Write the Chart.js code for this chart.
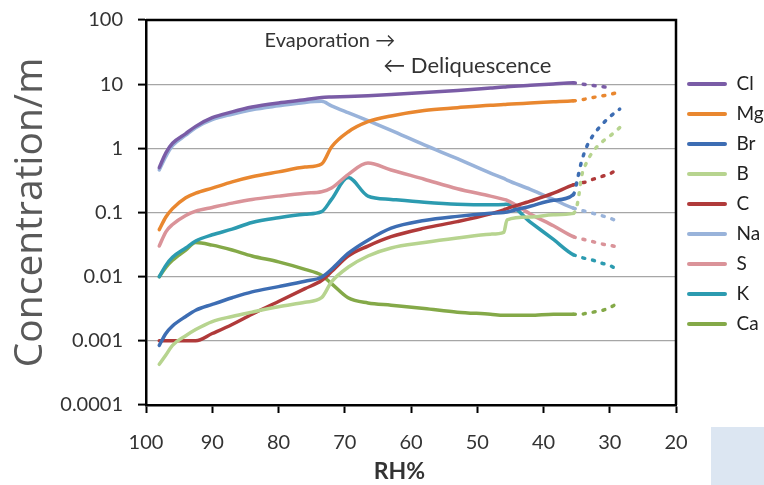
<!DOCTYPE html>
<html>
<head>
<meta charset="utf-8">
<title>Concentration vs RH</title>
<script src="https://cdn.jsdelivr.net/npm/chart.js@4.4.1/dist/chart.umd.min.js"></script>
<style>
    html, body { margin: 0; padding: 0; background: #fff; }
    #wrap { position: relative; width: 764px; height: 485px; overflow: hidden; }
    #corner { position: absolute; left: 711px; top: 427px; width: 53px; height: 58px; background: #dce6f2; }
</style>
</head>
<body>
<div id="wrap">
    <canvas id="chart" width="764" height="485"></canvas>
    <div id="corner"></div>
</div>
<script>
// RH% sample points (axis runs from 100 down to 20)
const rh = [98, 97, 96, 94, 92.5, 90, 87, 84, 80, 76, 73.5, 72, 69.5, 66.5, 63, 58, 53, 48, 46, 45.5, 42, 38.5, 35.5, 34.8, 34.3, 33.5, 32.5, 31, 30, 28.5];
// below this RH the curves are drawn dotted (extrapolated part)
const dottedFrom = 35.5;

// concentrations for each element, one value per RH point
const cl = [0.5, 0.85, 1.2, 1.7, 2.2, 3.0, 3.7, 4.4, 5.1, 5.7, 6.2, 6.3, 6.4, 6.6, 6.9, 7.4, 8.0, 8.7, 9.0, 9.1, 9.6, 10.1, 10.5, 10.3, 10.1, 9.8, 9.5, 9.1, 8.8, null];
const mg = [0.054, 0.085, 0.115, 0.17, 0.2, 0.24, 0.3, 0.36, 0.43, 0.51, 0.57, 1.05, 1.8, 2.6, 3.2, 3.9, 4.3, 4.7, 4.8, 4.85, 5.1, 5.3, 5.5, 5.6, 5.7, 5.9, 6.2, 6.6, 6.9, 7.6];
const br = [0.00085, 0.0013, 0.0017, 0.0024, 0.003, 0.0037, 0.0047, 0.0058, 0.007, 0.0085, 0.0098, 0.013, 0.023, 0.037, 0.057, 0.075, 0.087, 0.097, 0.1, 0.102, 0.125, 0.155, 0.19, 0.36, 0.6, 1.05, 1.6, 2.45, 3.1, 4.1];
const b = [0.00043, 0.0006, 0.00085, 0.0012, 0.0015, 0.002, 0.0024, 0.0028, 0.0034, 0.004, 0.0047, 0.0083, 0.014, 0.021, 0.028, 0.034, 0.04, 0.046, 0.049, 0.077, 0.085, 0.092, 0.097, 0.15, 0.35, 0.6, 0.9, 1.3, 1.55, 2.1];
const c = [0.001, 0.001, 0.001, 0.001, 0.001, 0.0013, 0.0018, 0.0026, 0.0041, 0.0065, 0.0087, 0.012, 0.021, 0.03, 0.042, 0.057, 0.072, 0.095, 0.11, 0.115, 0.15, 0.2, 0.27, 0.28, 0.29, 0.3, 0.33, 0.37, 0.4, 0.5];
const na = [0.46, 0.75, 1.1, 1.6, 2.1, 2.8, 3.4, 4.0, 4.6, 5.2, 5.4, 4.6, 3.6, 2.7, 1.9, 1.13, 0.69, 0.41, 0.34, 0.32, 0.23, 0.16, 0.117, 0.112, 0.108, 0.103, 0.097, 0.088, 0.082, 0.07];
const s = [0.03, 0.05, 0.065, 0.09, 0.105, 0.12, 0.14, 0.16, 0.18, 0.2, 0.21, 0.24, 0.39, 0.59, 0.46, 0.33, 0.235, 0.18, 0.16, 0.155, 0.095, 0.062, 0.042, 0.04, 0.039, 0.037, 0.035, 0.032, 0.031, 0.028];
const k = [0.01, 0.015, 0.02, 0.028, 0.036, 0.045, 0.055, 0.07, 0.083, 0.094, 0.103, 0.16, 0.35, 0.18, 0.16, 0.145, 0.135, 0.132, 0.133, 0.135, 0.071, 0.038, 0.022, 0.021, 0.02, 0.019, 0.018, 0.016, 0.015, 0.012];
const ca = [0.01, 0.014, 0.018, 0.026, 0.034, 0.031, 0.026, 0.021, 0.017, 0.013, 0.0105, 0.0078, 0.0047, 0.0039, 0.0036, 0.0032, 0.0028, 0.0026, 0.0025, 0.0025, 0.0025, 0.0026, 0.0026, 0.0026, 0.0026, 0.0027, 0.0028, 0.003, 0.0033, 0.004];

const seriesNames = ['Cl', 'Mg', 'Br', 'B', 'C', 'Na', 'S', 'K', 'Ca'];
const seriesValues = [cl, mg, br, b, c, na, s, k, ca];
const seriesColors = ['#7a5ca6', '#e9872f', '#3d6db3', '#b7d48f', '#b03a3a', '#99b3da', '#da9399', '#2c9bb0', '#84a948'];

// axis ticks
const yTicks = [0.0001, 0.001, 0.01, 0.1, 1, 10, 100];
const yTickLabels = ['0.0001', '0.001', '0.01', '0.1', '1', '10', '100'];
const xMin = 20, xMax = 100, xStep = 10;

/**
 * Draws the top/right frame lines and the two arrow notes
 */
const framePlugin = {
    id: 'frame',
    afterDatasetsDraw(chart) {
        const { ctx, chartArea: area, scales } = chart;
        ctx.save();
        ctx.strokeStyle = '#000';
        ctx.lineWidth = 2.5;
        ctx.beginPath();
        ctx.moveTo(area.left, area.top);
        ctx.lineTo(area.right, area.top);
        ctx.lineTo(area.right, area.bottom);
        ctx.stroke();

        ctx.fillStyle = '#333';
        ctx.textBaseline = 'middle';
        ctx.textAlign = 'left';
        ctx.font = '20px Lato';
        ctx.fillText('Evaporation \u2192', scales.x.getPixelForValue(82.1), scales.y.getPixelForValue(47));
        ctx.font = '22px Lato';
        ctx.fillText('\u2190 Deliquescence', scales.x.getPixelForValue(64.2), scales.y.getPixelForValue(19));
        ctx.restore();
    }
};

function buildChart() {
    Chart.defaults.font.family = 'Lato';

    const datasets = seriesNames.map((name, i) => ({
        label: name,
        data: rh.map((x, j) => ({ x: x, y: seriesValues[i][j] })),
        borderColor: seriesColors[i],
        backgroundColor: seriesColors[i],
        borderWidth: 3.5,
        borderCapStyle: 'round',
        borderJoinStyle: 'round',
        pointRadius: 0,
        cubicInterpolationMode: 'monotone',
        segment: {
            borderDash: ctx => ctx.p0.parsed.x <= dottedFrom ? [2, 8] : undefined
        }
    }));

    new Chart(document.getElementById('chart'), {
        type: 'line',
        data: { datasets: datasets },
        options: {
            responsive: false,
            animation: false,
            events: [],
            layout: { padding: { top: 20, left: 0, right: 0, bottom: 0 } },
            scales: {
                x: {
                    type: 'linear',
                    reverse: true,
                    min: xMin,
                    max: xMax,
                    afterFit: scale => { scale.height = 80; },
                    ticks: { stepSize: xStep, color: '#333', font: { size: 20 }, padding: 18, maxRotation: 0 },
                    grid: { drawOnChartArea: false, tickColor: '#000', tickLength: 8, tickWidth: 2 },
                    border: { color: '#000', width: 2.5 },
                    title: { display: true, text: 'RH%\u2002\u2002', color: '#333', font: { size: 23, weight: 'bold' }, padding: 0 }
                },
                y: {
                    type: 'logarithmic',
                    min: yTicks[0],
                    max: yTicks[yTicks.length - 1],
                    afterFit: scale => {
                        scale.width = 146;
                        scale.paddingTop = 0;
                        scale.paddingBottom = 0;
                    },
                    afterBuildTicks: scale => { scale.ticks = yTicks.map(v => ({ value: v })); },
                    ticks: {
                        color: '#333',
                        font: { size: 20 },
                        padding: 15,
                        callback: value => yTickLabels[yTicks.indexOf(value)]
                    },
                    grid: { color: '#a6a6a6', lineWidth: 1.2, tickColor: '#000', tickLength: 8, tickWidth: 2 },
                    border: { color: '#000', width: 2.5 },
                    title: {
                        display: true,
                        text: 'Concentration/m',
                        color: '#595959',
                        font: { family: 'Open Sans', size: 39 },
                        padding: { top: 7, bottom: 0 }
                    }
                }
            },
            plugins: {
                tooltip: { enabled: false },
                legend: {
                    position: 'right',
                    align: 'start',
                    maxWidth: 88,
                    title: { display: true, text: ' ', padding: { top: 0, bottom: 29 } },
                    labels: {
                        boxWidth: 40,
                        boxHeight: 4,
                        padding: 11,
                        color: '#222',
                        font: { size: 19 },
                        generateLabels: chart => Chart.defaults.plugins.legend.labels.generateLabels(chart).map(item =>
                            Object.assign(item, { lineWidth: 0, fillStyle: item.strokeStyle, borderRadius: 2 }))
                    }
                }
            }
        },
        plugins: [framePlugin]
    });
}

Promise.all([
    document.fonts.load('20px Lato'),
    document.fonts.load('bold 23px Lato'),
    document.fonts.load('39px "Open Sans"')
]).then(buildChart, buildChart);
</script>
</body>
</html>
